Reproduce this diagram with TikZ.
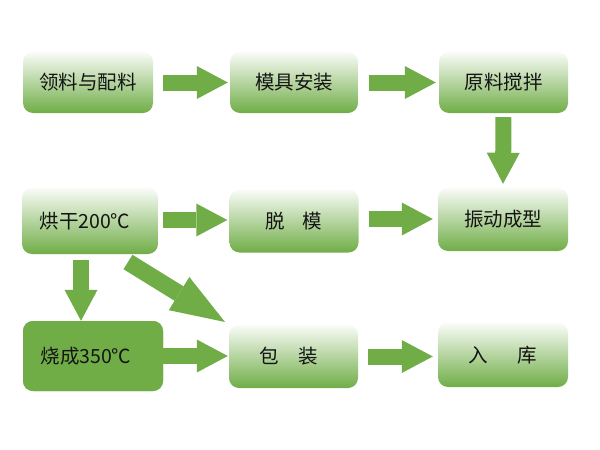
\documentclass[tikz,border=0pt]{standalone}
\usepackage{fontspec}
\setmainfont{Noto Sans CJK SC}
\usetikzlibrary{arrows.meta}
\definecolor{agreen}{HTML}{70AD47}
\definecolor{txt}{HTML}{141414}
\tikzset{
  gbox/.style={rounded corners=10pt, top color=agreen!4, bottom color=agreen, draw=none,
    font=\fontsize{19.5}{19.5}\selectfont, text=txt, inner sep=0pt, anchor=center},
  sbox/.style={gbox, top color=agreen, bottom color=agreen, fill=agreen},
  bigarrow/.style={draw=agreen, line width=16pt,
    -{Triangle[width=33pt,length=31pt,line width=0pt]}},
  diagarrow/.style={draw=agreen, line width=17pt,
    -{Triangle[width=39pt,length=54pt,line width=0pt]}}
}
\begin{document}
\begin{tikzpicture}[x=1pt,y=-1pt]
\useasboundingbox[fill=white] (0,0) rectangle (600,450);
% row 1
\node[gbox, minimum width=130pt, minimum height=61pt] (b1) at (88,82.5) {领料与配料};
\node[gbox, minimum width=128pt, minimum height=61pt] (b2) at (294,82.5) {模具安装};
\node[gbox, minimum width=129pt, minimum height=61pt] (b3) at (503.5,82.5) {原料搅拌};
% row 2
\node[gbox, minimum width=136pt, minimum height=66pt] (b4) at (90,221) {\hspace*{-10pt}烘干200℃};
\node[gbox, minimum width=129pt, minimum height=63pt] (b5) at (294,221) {脱\hspace{0.9em}模};
\node[gbox, minimum width=130pt, minimum height=63pt] (b6) at (503,219.5) {振动成型};
% row 3
\node[sbox, minimum width=140pt, minimum height=70pt] (b7) at (93,356) {\hspace*{-14pt}烧成350℃};
\node[gbox, minimum width=129pt, minimum height=63pt] (b8) at (293.5,356.5) {\hspace*{-10pt}包\hspace{1em}装};
\node[gbox, minimum width=130pt, minimum height=64pt] (b9) at (503,355) {入\hspace{1.5em}库};
% arrows
\draw[bigarrow, shorten <=10pt, shorten >=2pt] (b1.east) -- (b2.west);
\draw[bigarrow, shorten <=11pt, shorten >=3pt] (b2.east) -- (b3.west);
\draw[bigarrow, shorten <=4pt, shorten >=4pt] (b3.south) -- (b6.north);
\draw[bigarrow, shorten <=5pt, shorten >=2pt] ([yshift=1pt]b4.east) -- ([yshift=1pt]b4.east -| b5.west);
\draw[bigarrow, shorten <=10pt, shorten >=5pt] ([yshift=2pt]b5.east) -- ([yshift=2pt]b5.east -| b6.west);
\draw[bigarrow, shorten <=6pt] ([xshift=-9pt]b4.south) -- ([xshift=-9pt]b4.south |- b7.north);
\draw[bigarrow, shorten <=0pt, shorten >=1pt] (b7.east) -- (b7.east -| b8.west);
\draw[bigarrow, shorten <=10pt, shorten >=5pt] (b8.east) -- (b8.east -| b9.west);
\coordinate (d1) at (128,262);
\coordinate (d2) at (225,322);
\draw[diagarrow] (d1) -- (d2);
\end{tikzpicture}
\end{document}
